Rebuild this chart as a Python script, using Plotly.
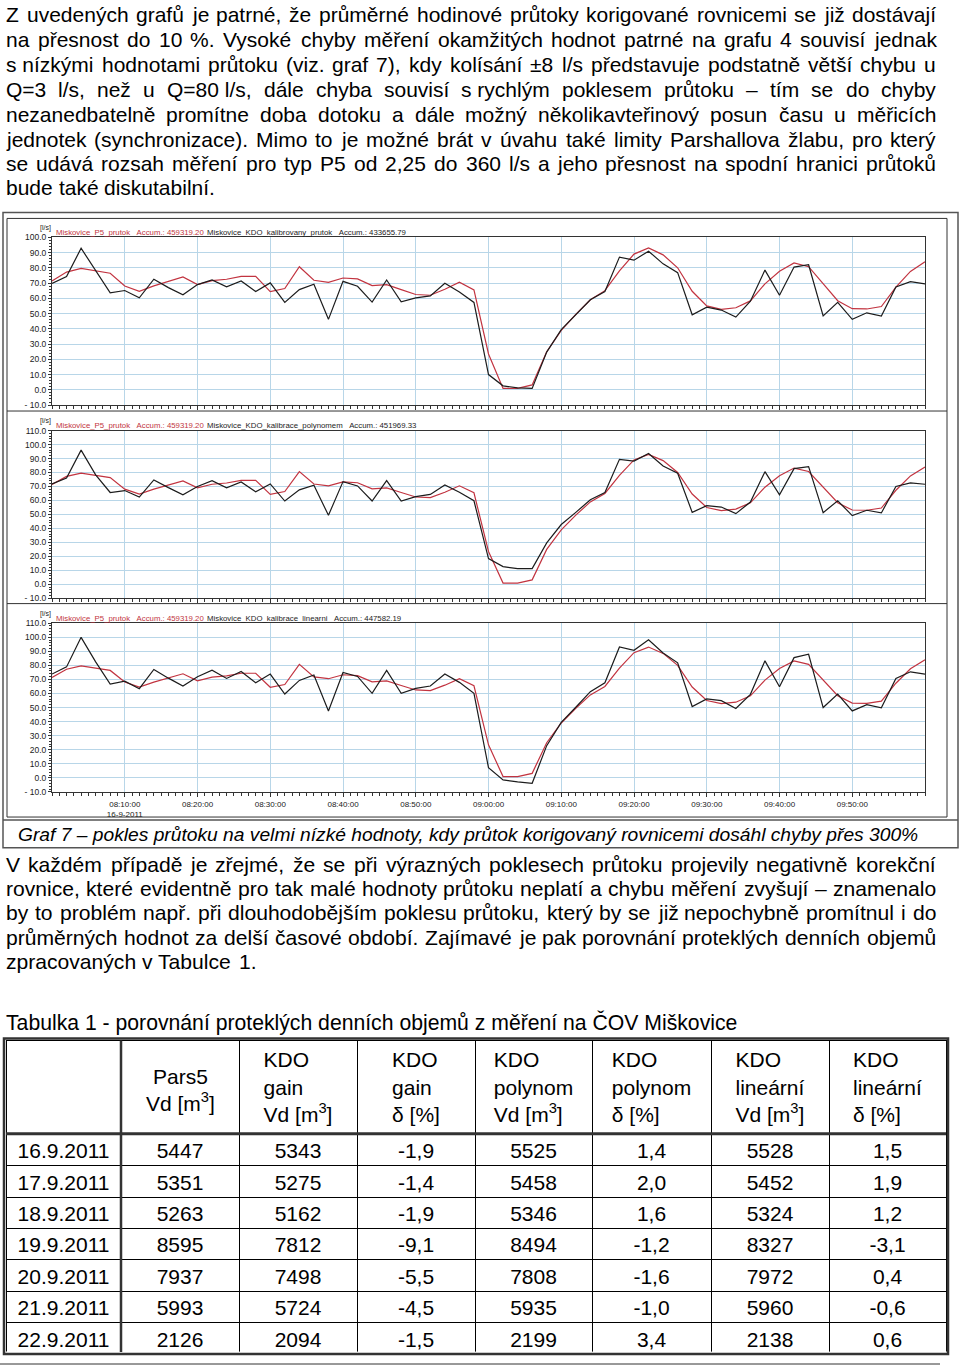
import plotly.graph_objects as go
import pandas as pd

W, H = 960, 1371
def px(x): return x / W
def py(y): return 1 - y / H

# ---------------- chart data ----------------
times = pd.date_range("2011-09-16 08:00:00", "2011-09-16 10:00:00", freq="2min").strftime("%Y-%m-%d %H:%M:%S").tolist()

p5_prutok = [71.4, 77.2, 79.6, 78.1, 76.4, 68.1, 64.6, 68.1, 71.1, 74.0,
             69.0, 71.6, 72.5, 74.4, 74.4, 64.4, 66.4, 80.7, 71.8, 70.5,
             73.3, 72.7, 68.3, 69.0, 65.7, 62.5, 62.0, 65.9, 70.5, 65.5,
             23.5, 0.9, 0.9, 3.2, 25.0, 39.0, 49.5, 59.0, 65.0, 78.0,
             89.0, 93.0, 88.5, 80.0, 64.6, 55.0, 52.8, 53.8, 58.3, 69.5,
             77.7, 83.2, 80.7, 69.3, 58.4, 53.2, 53.0, 54.6, 67.3, 77.6, 83.9]

kdo_kalibrovany = [69.8, 74.2, 92.8, 78.5, 63.6, 65.1, 60.3, 72.5, 67.0, 62.3,
                   69.0, 72.0, 67.5, 71.4, 64.4, 70.1, 57.3, 65.7, 69.2, 46.2,
                   71.1, 67.9, 57.5, 72.0, 57.7, 60.3, 61.6, 69.8, 64.2, 57.3,
                   10.0, 2.6, 1.3, 0.9, 24.7, 39.5, 49.0, 59.0, 64.4, 87.0,
                   85.0, 90.9, 82.6, 76.8, 49.2, 54.2, 52.3, 47.7, 58.1, 78.5,
                   62.0, 80.5, 82.0, 48.4, 57.3, 46.2, 50.5, 48.4, 67.5, 70.9, 69.4]

kdo_polynom = [71.8, 76.0, 96.0, 78.3, 65.7, 67.1, 62.4, 74.7, 69.2, 64.0,
               70.0, 74.2, 69.0, 73.3, 66.2, 71.8, 59.6, 67.6, 70.9, 49.4,
               73.5, 70.4, 59.6, 74.2, 59.6, 62.7, 64.3, 71.1, 65.9, 59.8,
               18.4, 12.7, 11.3, 11.3, 29.7, 42.8, 51.5, 60.5, 65.7, 89.4,
               88.2, 93.6, 84.7, 79.5, 51.5, 56.3, 55.3, 50.6, 58.9, 80.6,
               64.0, 82.8, 84.2, 51.3, 59.8, 49.2, 53.0, 51.1, 70.0, 72.6, 71.6]

kdo_linearni = [73.8, 78.9, 99.9, 82.5, 66.7, 68.8, 63.4, 77.1, 70.9, 65.3,
                71.9, 76.6, 70.7, 75.6, 67.6, 73.8, 59.6, 69.3, 73.1, 47.6,
                74.9, 72.1, 60.1, 76.4, 60.1, 63.6, 65.3, 73.8, 67.9, 60.1,
                7.2, -1.5, -2.9, -3.9, 22.9, 39.4, 50.2, 61.3, 67.6, 93.1,
                90.7, 98.2, 88.8, 81.8, 50.7, 56.1, 54.9, 49.3, 59.4, 83.2,
                64.8, 85.5, 87.9, 50.0, 59.6, 47.6, 52.1, 49.8, 70.7, 75.4, 73.8]

red_name = "Miskovice_P5_prutok\u00a0\u00a0\u00a0Accum.: 459319.20"
black_names = ["Miskovice_KDO_kalibrovany_prutok\u00a0\u00a0\u00a0Accum.: 433655.79",
               "Miskovice_KDO_kalibrace_polynomem\u00a0\u00a0\u00a0Accum.: 451969.33",
               "Miskovice_KDO_kalibrace_linearni\u00a0\u00a0\u00a0Accum.: 447582.19"]
black_series = [kdo_kalibrovany, kdo_polynom, kdo_linearni]
y_ranges = [[-10, 100], [-10, 110], [-10, 110]]
x_tick_vals = pd.date_range("2011-09-16 08:10:00", "2011-09-16 09:50:00", freq="10min").strftime("%Y-%m-%d %H:%M:%S").tolist()
x_tick_text = ["08:10:00<br>16-9-2011", "08:20:00", "08:30:00", "08:40:00", "08:50:00",
               "09:00:00", "09:10:00", "09:20:00", "09:30:00", "09:40:00", "09:50:00"]

# ---------------- table data ----------------
dates = ["16.9.2011", "17.9.2011", "18.9.2011", "19.9.2011", "20.9.2011", "21.9.2011", "22.9.2011"]
pars5_vd = [5447, 5351, 5263, 8595, 7937, 5993, 2126]
gain_vd = [5343, 5275, 5162, 7812, 7498, 5724, 2094]
gain_d = [-1.9, -1.4, -1.9, -9.1, -5.5, -4.5, -1.5]
poly_vd = [5525, 5458, 5346, 8494, 7808, 5935, 2199]
poly_d = [1.4, 2.0, 1.6, -1.2, -1.6, -1.0, 3.4]
lin_vd = [5528, 5452, 5324, 8327, 7972, 5960, 2138]
lin_d = [1.5, 1.9, 1.2, -3.1, 0.4, -0.6, 0.6]
header_vals = [" ", " ", "KDO<br>gain<br>Vd [m<sup>3</sup>]", "KDO<br>gain<br>δ [%]",
               "KDO<br>polynom<br>Vd [m<sup>3</sup>]", "KDO<br>polynom<br>δ [%]",
               "KDO<br>lineární<br>Vd [m<sup>3</sup>]", "KDO<br>lineární<br>δ [%]"]
header_pars5 = "Pars5<br>Vd [m<sup>3</sup>]"

# ---------------- text ----------------
para1 = ["Z uvedených grafů je patrné, že průměrné hodinové průtoky korigované rovnicemi se již dostávají",
         "na přesnost do 10 %. Vysoké chyby měření okamžitých hodnot patrné na grafu 4 souvisí jednak",
         "s\u00a0nízkými hodnotami průtoku (viz. graf 7), kdy kolísání ±8 l/s představuje podstatně větší chybu u",
         "Q=3 l/s, než u Q=80\u00a0l/s, dále chyba souvisí s\u00a0rychlým poklesem průtoku – tím se do chyby",
         "nezanedbatelně promítne doba dotoku a dále možný několikavteřinový posun času u měřicích",
         "jednotek (synchronizace). Mimo to je možné brát v úvahu také limity Parshallova žlabu, pro který",
         "se udává rozsah měření pro typ P5 od 2,25 do 360 l/s a jeho přesnost na spodní hranici průtoků",
         "bude také diskutabilní."]
para1_y = [10, 35, 60, 85, 110, 135, 160, 184]
caption = "Graf 7 – pokles průtoku na velmi nízké hodnoty, kdy průtok korigovaný rovnicemi dosáhl chyby přes 300%"
para2 = ["V každém případě je zřejmé, že se při výrazných poklesech průtoku projevily negativně korekční",
         "rovnice, které evidentně pro tak malé hodnoty průtoku neplatí a chybu měření zvyšují – znamenalo",
         "by to problém např. při dlouhodobějším poklesu průtoku, který by se již nepochybně promítnul i do",
         "průměrných hodnot za delší časové období. Zajímavé je pak porovnání proteklých denních objemů",
         "zpracovaných v Tabulce 1."]
para2_y = [866, 890, 914, 939, 964]
table_title = "Tabulka 1 - porovnání proteklých denních objemů z měření na ČOV Miškovice"

# ---------------- font metrics (Arial / Liberation Sans) ----------------
AW = {' ': 278, '\u00a0': 278, '!': 278, '%': 889, '(': 333, ')': 333, ',': 278, '-': 333,
      '.': 278, '/': 278, ':': 278, '=': 584, '±': 584, '–': 556, '_': 556, '[': 278, ']': 278}
for c in '0123456789':
    AW[c] = 556
AW.update(dict(A=667, B=667, C=722, D=722, E=667, F=611, G=778, H=722, I=278, J=500, K=667, L=556,
               M=833, N=722, O=778, P=667, Q=778, R=722, S=667, T=611, U=722, V=667, W=944, X=667,
               Y=667, Z=611))
AW.update(dict(a=556, b=556, c=500, d=556, e=556, f=278, g=556, h=556, i=222, j=222, k=500, l=222,
               m=833, n=556, o=556, p=556, q=556, r=333, s=500, t=278, u=556, v=500, w=722, x=500,
               y=500, z=500))
AW.update({'á': 556, 'é': 556, 'ě': 556, 'í': 278, 'ó': 556, 'ú': 556, 'ů': 556, 'ý': 500, 'č': 500,
           'ď': 615, 'ň': 556, 'ř': 333, 'š': 500, 'ť': 357, 'ž': 500, 'Č': 722, 'Š': 667, 'Ž': 611})

def em(s):
    return sum(AW.get(c, 556) for c in s) / 1000.0

SANS = "Liberation Sans, Arial, sans-serif"

annotations = []
shapes = []

def add_text(text, x, y, size, family=SANS, color="black", xanchor="left", italic=False):
    annotations.append(dict(x=px(x), y=py(y), xref="paper", yref="paper", text=text, showarrow=False,
                            xanchor=xanchor, yanchor="middle", borderpad=0, borderwidth=0,
                            font=dict(size=size, family=family, color=color,
                                      style="italic" if italic else "normal")))

def add_line(text, y, x0, x1, size, justify):
    words = text.split(" ")
    widths = [em(w) * size for w in words]
    if justify and len(words) > 1:
        gap = (x1 - x0 - sum(widths)) / (len(words) - 1)
    else:
        gap = AW[' '] / 1000 * size
    x = x0
    for w, wd in zip(words, widths):
        add_text(w, x, y, size)
        x += wd + gap

# paragraph 1
s1 = 21
for i, (ln, y) in enumerate(zip(para1, para1_y)):
    add_line(ln, y, 6, 936, s1, i < len(para1) - 1)

# paragraph 2
s2 = min(251 / em(para2[-1]), 925 / max(em(l) for l in para2[:-1]))
for i, (ln, y) in enumerate(zip(para2, para2_y)):
    add_line(ln, y, 6, 936, s2, i < len(para2) - 1)

# caption
sc = 902 / em(caption)
add_text(caption, 18, 836, sc, italic=True)

# table title
st = 734 / em(table_title)
add_text(table_title, 6, 1025, st)

# ---------------- chart ----------------
RED = "#c23440"
BLK = "#1c1c1c"
GRID = "#b8d6e8"
plot_x = [52, 925]
panel_tops = [234, 428.7, 622.7]
panel_bots = [403, 597.7, 792.7]

fig = go.Figure()
layout_axes = {}
for k in range(3):
    sfx = "" if k == 0 else str(k + 1)
    fig.add_trace(go.Scatter(x=times, y=p5_prutok, mode="lines", line=dict(color=RED, width=1.2),
                             xaxis="x" + sfx, yaxis="y" + sfx, hoverinfo="skip"))
    fig.add_trace(go.Scatter(x=times, y=black_series[k], mode="lines", line=dict(color=BLK, width=1.2),
                             xaxis="x" + sfx, yaxis="y" + sfx, hoverinfo="skip"))
    lo, hi = y_ranges[k]
    yv = list(range(lo, hi + 1, 10))
    yt = [f"{v:.1f}" if v >= 0 else f"- {abs(v):.1f}" for v in yv]
    layout_axes["xaxis" + sfx] = dict(
        domain=[px(plot_x[0]), px(plot_x[1])], anchor="y" + sfx, type="date",
        range=[times[0], times[-1]], tickmode="array", tickvals=x_tick_vals, ticktext=x_tick_text,
        showticklabels=(k == 2), showgrid=True, gridcolor=GRID, gridwidth=1,
        showline=True, linecolor="#333", linewidth=1, mirror=True,
        ticks="outside", ticklen=4, tickcolor="#333",
        minor=dict(tick0=times[0], dtick=60000, ticks="outside", ticklen=3, tickcolor="#333", showgrid=False),
        tickfont=dict(size=8, family=SANS, color="#222"), zeroline=False, fixedrange=True)
    layout_axes["yaxis" + sfx] = dict(
        domain=[py(panel_bots[k]), py(panel_tops[k])], anchor="x" + sfx, range=[lo, hi],
        tickmode="array", tickvals=yv, ticktext=yt, showgrid=True, gridcolor=GRID, gridwidth=1,
        showline=True, linecolor="#333", linewidth=1, mirror=True,
        ticks="outside", ticklen=3, tickcolor="#333",
        minor=dict(dtick=2, ticks="outside", ticklen=2, tickcolor="#333", showgrid=False),
        tickfont=dict(size=8.5, family=SANS, color="#222"), zeroline=False, fixedrange=True)
    # header texts of the panel
    add_text("[l/s]", 40, panel_tops[k] - 9.5, 7, color="#222")
    add_text(red_name, 56, panel_tops[k] - 5, 7.8, color=RED)
    add_text(black_names[k], 207, panel_tops[k] - 5, 7.8, color=BLK)

# frames around the chart
def rect(x0, y0, x1, y1, color, width):
    shapes.append(dict(type="rect", xref="paper", yref="paper", x0=px(x0), x1=px(x1), y0=py(y1), y1=py(y0),
                       line=dict(color=color, width=width), fillcolor="rgba(0,0,0,0)", layer="above"))

def hline(x0, x1, y, color, width):
    shapes.append(dict(type="line", xref="paper", yref="paper", x0=px(x0), x1=px(x1), y0=py(y), y1=py(y),
                       line=dict(color=color, width=width), layer="above"))

def vline(x, y0, y1, color, width):
    shapes.append(dict(type="line", xref="paper", yref="paper", x0=px(x), x1=px(x), y0=py(y0), y1=py(y1),
                       line=dict(color=color, width=width), layer="above"))

rect(3, 209, 958, 849, "#555", 1.5)
rect(7, 215, 947, 818, "#333", 1)
hline(7, 947, 409, "#333", 1)
hline(7, 947, 603, "#333", 1)
hline(3, 958, 821, "#555", 1.5)

# ---------------- table ----------------
fmt = lambda v: f"{v:.1f}".replace(".", ",")
cols = [dates, pars5_vd, gain_vd, [fmt(v) for v in gain_d], poly_vd, [fmt(v) for v in poly_d],
        lin_vd, [fmt(v) for v in lin_d]]
fig.add_trace(go.Table(
    domain=dict(x=[px(6), px(946)], y=[py(1357), py(1043)]),
    columnwidth=[115, 118, 118, 118, 117, 119, 118, 117],
    header=dict(values=header_vals, height=94, align="center",
                font=dict(size=21, family=SANS, color="black"),
                line=dict(color="black", width=1), fill=dict(color="white")),
    cells=dict(values=cols, height=31.4, align="center",
               font=dict(size=21, family=SANS, color="black"),
               line=dict(color="black", width=1), fill=dict(color="white"))))
add_text(header_pars5, 180, 1093, 21, xanchor="center")
rect(4, 1041, 948, 1359, "#333", 2.5)
hline(6, 946, 1137, "#333", 3)
vline(121, 1043, 1357, "#333", 2.5)
hline(0, 940, 1369, "#333", 1)

fig.update_layout(width=W, height=H, margin=dict(l=0, r=0, t=0, b=0), autosize=False,
                  paper_bgcolor="white", plot_bgcolor="white", showlegend=False,
                  annotations=annotations, shapes=shapes, **layout_axes)
fig.write_html("out.html", config={"displayModeBar": False, "staticPlot": True},
               post_script="document.body.style.margin='0px';document.body.style.padding='0px';"
                           "document.body.style.overflow='hidden';")
